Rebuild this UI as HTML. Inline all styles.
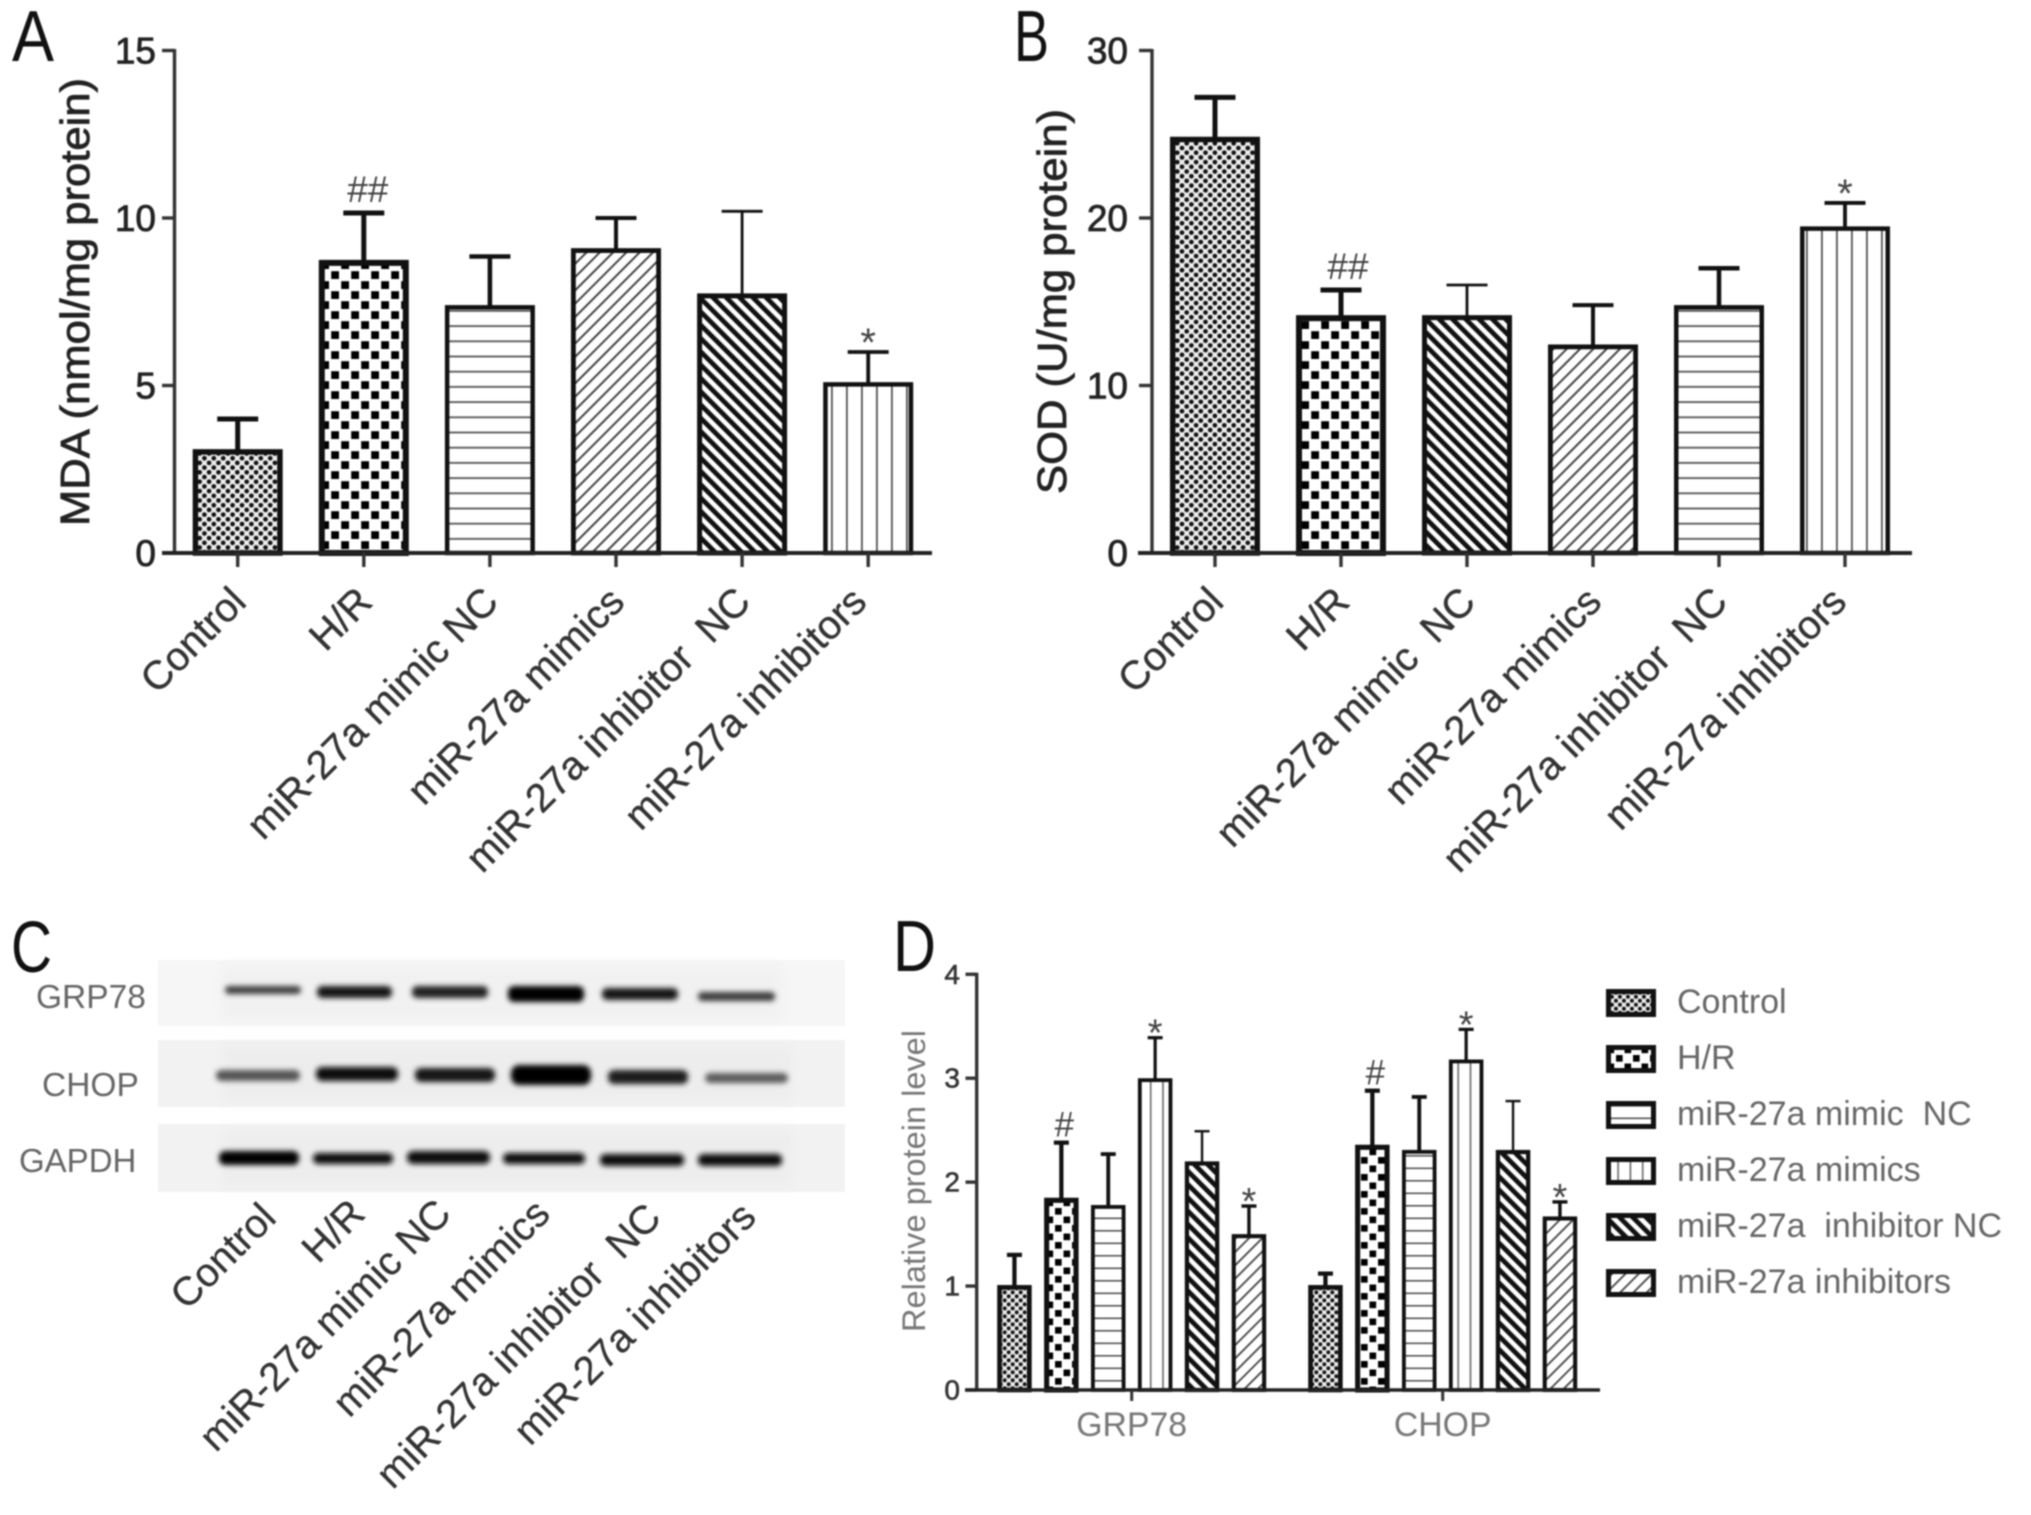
<!DOCTYPE html>
<html lang="en">
<head>
<meta charset="utf-8">
<title>miR-27a figure panels</title>
<style>
html,body{margin:0;padding:0;background:#fff;}
svg{display:block;filter:blur(0.7px);}
text{font-family:"Liberation Sans",Arial,sans-serif;white-space:pre;}
</style>
</head>
<body>
<svg id="figure" xmlns="http://www.w3.org/2000/svg" width="2031" height="1515" viewBox="0 0 2031 1515">
<defs>
<pattern id="p-dots" width="9.4" height="9.4" patternUnits="userSpaceOnUse"><rect width="9.4" height="9.4" fill="#eee"/><circle cx="2.3" cy="2.3" r="2.35" fill="#111"/><circle cx="7" cy="7" r="2.35" fill="#111"/></pattern>
<pattern id="p-checks" width="20" height="20" patternUnits="userSpaceOnUse"><rect width="20" height="20" fill="#fff"/><rect x="1.2" y="1.2" width="7.8" height="7.8" fill="#000"/><rect x="11.2" y="11.2" width="7.8" height="7.8" fill="#000"/></pattern>
<pattern id="p-hlines" width="15" height="15.2" patternUnits="userSpaceOnUse"><rect width="15" height="15.2" fill="#fff"/><rect y="6" width="15" height="1.8" fill="#555"/></pattern>
<pattern id="p-vlines" width="15" height="15" patternUnits="userSpaceOnUse"><rect width="15" height="15" fill="#fff"/><rect x="6" width="1.8" height="15" fill="#555"/></pattern>
<pattern id="p-fdiag" width="9.4" height="9.4" patternUnits="userSpaceOnUse" patternTransform="rotate(45)"><rect width="9.4" height="9.4" fill="#fff"/><rect width="2" height="9.4" fill="#444"/></pattern>
<pattern id="p-bdiag" width="9.4" height="9.4" patternUnits="userSpaceOnUse" patternTransform="rotate(-45)"><rect width="9.4" height="9.4" fill="#fff"/><rect width="4.8" height="9.4" fill="#111"/></pattern>
<pattern id="pd-dots" width="9.4" height="9.4" patternUnits="userSpaceOnUse" patternTransform="scale(0.85)"><rect width="9.4" height="9.4" fill="#eee"/><circle cx="2.3" cy="2.3" r="2.35" fill="#111"/><circle cx="7" cy="7" r="2.35" fill="#111"/></pattern>
<pattern id="pd-checks" width="20" height="20" patternUnits="userSpaceOnUse" patternTransform="scale(0.85)"><rect width="20" height="20" fill="#fff"/><rect x="1.2" y="1.2" width="7.8" height="7.8" fill="#000"/><rect x="11.2" y="11.2" width="7.8" height="7.8" fill="#000"/></pattern>
<pattern id="pd-hlines" width="15" height="12.5" patternUnits="userSpaceOnUse"><rect width="15" height="12.5" fill="#fff"/><rect y="5" width="15" height="1.6" fill="#555"/></pattern>
<pattern id="pd-vlines" width="12.3" height="15" patternUnits="userSpaceOnUse"><rect width="12.3" height="15" fill="#fff"/><rect x="6" width="1.6" height="15" fill="#666"/></pattern>
<pattern id="pd-fdiag" width="9.4" height="9.4" patternUnits="userSpaceOnUse" patternTransform="rotate(45)"><rect width="9.4" height="9.4" fill="#fff"/><rect width="1.8" height="9.4" fill="#444"/></pattern>
<pattern id="pd-bdiag" width="9.4" height="9.4" patternUnits="userSpaceOnUse" patternTransform="rotate(-45)"><rect width="9.4" height="9.4" fill="#fff"/><rect width="4.8" height="9.4" fill="#111"/></pattern>
<filter id="band-blur" x="-20%" y="-100%" width="140%" height="300%"><feGaussianBlur stdDeviation="2.6"/></filter>
<filter id="lane-blur" x="-10%" y="-20%" width="120%" height="140%"><feGaussianBlur stdDeviation="6"/></filter>
</defs>

<rect width="2031" height="1515" fill="#fff"/>

<text x="12" y="61" font-size="72" fill="#111" textLength="42" lengthAdjust="spacingAndGlyphs">A</text>
<text x="1014" y="61" font-size="72" fill="#111" textLength="35" lengthAdjust="spacingAndGlyphs">B</text>
<text x="11" y="972" font-size="72" fill="#111" textLength="41" lengthAdjust="spacingAndGlyphs">C</text>
<text x="893" y="971" font-size="72" fill="#111" textLength="43" lengthAdjust="spacingAndGlyphs">D</text>

<text transform="translate(89,526) rotate(-90)" font-size="41" fill="#222" stroke="#222" stroke-width="0.8" textLength="448" lengthAdjust="spacingAndGlyphs">MDA (nmol/mg protein)</text>
<text transform="translate(1066,494) rotate(-90)" font-size="41" fill="#222" stroke="#222" stroke-width="0.8" textLength="385" lengthAdjust="spacingAndGlyphs">SOD (U/mg protein)</text>
<text transform="translate(925,1332) rotate(-90)" font-size="32" fill="#777" textLength="302" lengthAdjust="spacingAndGlyphs">Relative protein level</text>

<g id="panel-a"></g>
<g id="panel-b"></g>

<g id="panel-c">
  <rect x="158" y="960" width="687" height="66" fill="#f6f6f6"/>
  <rect x="158" y="1040" width="687" height="67" fill="#f2f2f2"/>
  <rect x="158" y="1124" width="687" height="68" fill="#f2f2f2"/>
  <g filter="url(#lane-blur)">
    <rect x="222" y="966" width="560" height="54" fill="#f1f1f1"/>
    <rect x="222" y="1046" width="570" height="56" fill="#ededed"/>
    <rect x="222" y="1130" width="570" height="56" fill="#ededed"/>
  </g>
  <g filter="url(#band-blur)">
    <rect x="225" y="986" width="76" height="8" rx="4" fill="#3a3a3a"/>
    <rect x="317" y="986" width="75" height="12" rx="5" fill="#141414"/>
    <rect x="412" y="986" width="76" height="12" rx="5" fill="#232323"/>
    <rect x="508" y="986" width="76" height="16" rx="6" fill="#000"/>
    <rect x="602" y="988" width="76" height="12" rx="5" fill="#141414"/>
    <rect x="698" y="992" width="77" height="9" rx="4" fill="#3a3a3a"/>
    <rect x="216" y="1070" width="84" height="11" rx="5" fill="#555"/>
    <rect x="316" y="1067" width="82" height="14" rx="6" fill="#111"/>
    <rect x="415" y="1068" width="80" height="14" rx="6" fill="#151515"/>
    <rect x="511" y="1065" width="80" height="20" rx="8" fill="#000"/>
    <rect x="608" y="1070" width="80" height="14" rx="6" fill="#1c1c1c"/>
    <rect x="705" y="1073" width="83" height="10" rx="5" fill="#5a5a5a"/>
    <rect x="219" y="1151" width="80" height="14" rx="6" fill="#000"/>
    <rect x="313" y="1153" width="80" height="11" rx="5" fill="#0c0c0c"/>
    <rect x="407" y="1151" width="83" height="13" rx="6" fill="#0c0c0c"/>
    <rect x="503" y="1153" width="82" height="11" rx="5" fill="#0c0c0c"/>
    <rect x="600" y="1154" width="84" height="12" rx="5" fill="#0c0c0c"/>
    <rect x="698" y="1154" width="84" height="12" rx="5" fill="#0c0c0c"/>
  </g>
  <text x="36" y="1008" font-size="33.5" fill="#666">GRP78</text>
  <text x="42" y="1096" font-size="33.5" fill="#666">CHOP</text>
  <text x="19" y="1172" font-size="33" fill="#666">GAPDH</text>
  <g font-size="40" fill="#333" stroke="#333" stroke-width="0.3" text-anchor="end">
    <text transform="translate(278,1220) rotate(-45)">Control</text>
    <text transform="translate(367,1216) rotate(-45)">H/R</text>
    <text transform="translate(453,1216) rotate(-45)">miR-27a mimic NC</text>
    <text transform="translate(552,1216) rotate(-45)">miR-27a mimics</text>
    <text transform="translate(663,1220) rotate(-45)">miR-27a inhibitor  NC</text>
    <text transform="translate(758,1219) rotate(-45)">miR-27a inhibitors</text>
  </g>
</g>

<g id="panel-d"></g>

<g id="legend"></g>

<script>
// ---------- Panel A data ----------
const aCategories = ["Control", "H/R", "miR-27a mimic NC", "miR-27a mimics", "miR-27a inhibitor  NC", "miR-27a inhibitors"];
const aMeans = [3.1, 8.75, 7.4, 9.1, 7.75, 5.1];
const aErrorTops = [4.0, 10.15, 8.85, 10.0, 10.2, 6.0];
const aPatterns = ["dots", "checks", "hlines", "fdiag", "bdiag", "vlines"];
const aMarks = ["", "##", "", "", "", "*"];
const aYTicks = [0, 5, 10, 15];

// ---------- Panel B data ----------
const bCategories = ["Control", "H/R", "miR-27a mimic  NC", "miR-27a mimics", "miR-27a inhibitor  NC", "miR-27a inhibitors"];
const bMeans = [24.85, 14.2, 14.2, 12.45, 14.8, 19.5];
const bErrorTops = [27.2, 15.7, 16.0, 14.8, 17.0, 20.9];
const bPatterns = ["dots", "checks", "bdiag", "fdiag", "hlines", "vlines"];
const bMarks = ["", "##", "", "", "", "*"];
const bYTicks = [0, 10, 20, 30];

// ---------- Panel D data ----------
const dGroups = ["GRP78", "CHOP"];
const dGrp78Means = [1.01, 1.85, 1.78, 3.0, 2.2, 1.5];
const dGrp78ErrorTops = [1.3, 2.38, 2.27, 3.39, 2.49, 1.77];
const dChopMeans = [1.01, 2.36, 2.31, 3.18, 2.31, 1.67];
const dChopErrorTops = [1.12, 2.88, 2.82, 3.47, 2.78, 1.81];
const dPatterns = ["dots", "checks", "hlines", "vlines", "bdiag", "fdiag"];
const dMarks = ["", "#", "", "*", "", "*"];
const dYTicks = [0, 1, 2, 3, 4];
const legendLabels = ["Control", "H/R", "miR-27a mimic  NC", "miR-27a mimics", "miR-27a  inhibitor NC", "miR-27a inhibitors"];

// Line weights per fill style
const barStroke = { dots: 5.5, checks: 6, hlines: 4.5, fdiag: 4.8, bdiag: 5, vlines: 4.5 };
const stemStroke = { dots: 5, checks: 5, hlines: 4.5, fdiag: 4, bdiag: 2.8, vlines: 3.8 };

const NS = "http://www.w3.org/2000/svg";
function mk(parent, tag, attrs, text) {
  const el = document.createElementNS(NS, tag);
  for (const k in attrs) el.setAttribute(k, attrs[k]);
  if (text !== undefined) el.textContent = text;
  parent.appendChild(el);
  return el;
}
function slug(s) {
  return s.toLowerCase().replace(/[^a-z0-9]+/g, "-");
}

// Axis functions
function linearY(y0, yTop, maxValue) {
  return function (v) { return y0 - (v / maxValue) * (y0 - yTop); };
}
function bandX(first, step) {
  return function (i) { return first + i * step; };
}

function drawYAxis(g, prefix, axisX, tickLeft, labelRight, yScale, ticks, fontSize, color, labelDy, labelStroke) {
  const top = yScale(ticks[ticks.length - 1]);
  const bottom = yScale(0);
  const axis = mk(g, "line", { x1: axisX, x2: axisX, y1: top - 1.5, y2: bottom, stroke: "#333", "stroke-width": 3.4 });
  
  
  ticks.forEach(function (t) {
    const y = yScale(t);
    const tick = mk(g, "line", { x1: tickLeft, x2: axisX, y1: y, y2: y, stroke: "#333", "stroke-width": 3.4 });
    
    
    const label = mk(g, "text", { x: labelRight, y: y + labelDy, "font-size": fontSize, fill: color, stroke: color, "stroke-width": labelStroke, "text-anchor": "end" }, String(t));
    
    
  });
}

function drawBar(g, name, cx, mean, errTop, pat, mark, opt) {
  const y = opt.yScale;
  const sw = barStroke[pat] * opt.weight;
  const stemW = stemStroke[pat] * opt.weight;
  const topY = y(mean);
  const errY = y(errTop);
  const stem = mk(g, "line", { x1: cx, x2: cx, y1: errY, y2: topY + sw, stroke: "#111", "stroke-width": stemW });
  
  
  const cap = mk(g, "line", { x1: cx - opt.capW / 2, x2: cx + opt.capW / 2, y1: errY, y2: errY, stroke: "#111", "stroke-width": stemW });
  
  
  const bar = mk(g, "rect", {
    x: cx - opt.barW / 2 + sw / 2,
    y: topY + sw / 2,
    width: opt.barW - sw,
    height: Math.max(0, y(0) - topY - sw / 2),
    fill: "url(#" + opt.patPrefix + pat + ")",
    stroke: "#111",
    "stroke-width": sw
  });
  
  
  if (mark) {
    const isStar = mark === "*";
    const m = mk(g, "text", {
      x: cx + (isStar ? opt.starDx : opt.hashDx),
      y: errY + (isStar ? opt.starDy : opt.hashDy),
      "font-size": isStar ? opt.markSize + 3 : opt.markSize,
      fill: "#444",
      "text-anchor": "middle"
    }, mark);
    
    
  }
}

function drawRotatedLabel(g, name, x, y, text, fontSize) {
  const t = mk(g, "text", { transform: "translate(" + x + "," + y + ") rotate(-45)", "font-size": fontSize, fill: "#333", stroke: "#333", "stroke-width": 0.4, "text-anchor": "end" }, text);
  
  
}

function drawColumnPanel(g, prefix, cats, means, errs, pats, marks, ticks, yScale, xScale, geom) {
  drawYAxis(g, prefix, geom.axisX, geom.tickLeft, geom.labelRight, yScale, ticks, 37, "#222", 13, 0.8);
  cats.forEach(function (c, i) {
    drawBar(g, prefix + "-bar-" + slug(c), xScale(i), means[i], errs[i], pats[i], marks[i], {
      yScale: yScale, barW: 90, capW: 41, weight: 1, patPrefix: "p-",
      markSize: 37, hashDx: geom.hashDx, hashDy: -11, starDx: 0, starDy: 4
    });
  });
  const y0 = yScale(0);
  const xAxis = mk(g, "line", { x1: geom.xLeft, x2: geom.xRight, y1: y0, y2: y0, stroke: "#222", "stroke-width": 4 });
  
  
  cats.forEach(function (c, i) {
    const tick = mk(g, "line", { x1: xScale(i), x2: xScale(i), y1: y0, y2: y0 + 14, stroke: "#333", "stroke-width": 3.4 });
    
    
    const lastShift = i === cats.length - 1 ? geom.lastLabelShift : 0;
    drawRotatedLabel(g, prefix + "-x-label-" + slug(c), xScale(i) + 10.5 + lastShift, y0 + 51, c, 40);
  });
}

// ---------- Draw A ----------
const yA = linearY(553, 50.5, 15);
const xA = bandX(237.7, 126.1);
drawColumnPanel(document.getElementById("panel-a"), "a", aCategories, aMeans, aErrorTops, aPatterns, aMarks, aYTicks, yA, xA,
  { axisX: 174.5, tickLeft: 162, labelRight: 156, xLeft: 162, xRight: 932, hashDx: 4, lastLabelShift: -10 });

// ---------- Draw B ----------
const yB = linearY(553, 50.5, 30);
const xB = bandX(1215, 126);
drawColumnPanel(document.getElementById("panel-b"), "b", bCategories, bMeans, bErrorTops, bPatterns, bMarks, bYTicks, yB, xB,
  { axisX: 1152, tickLeft: 1139, labelRight: 1128, xLeft: 1138, xRight: 1912, hashDx: 7, lastLabelShift: -7 });

// ---------- Draw D ----------
const panelD = document.getElementById("panel-d");
const yD = linearY(1390, 974.3, 4);
const xD = bandX(1131.7, 311);
const dBarStep = 46.9;
drawYAxis(panelD, "d", 976.7, 965.5, 960, yD, dYTicks, 28, "#333", 9.5, 0.6);
[[dGrp78Means, dGrp78ErrorTops], [dChopMeans, dChopErrorTops]].forEach(function (series, gi) {
  dPatterns.forEach(function (pat, i) {
    const cx = xD(gi) + (i - 2.5) * dBarStep;
    drawBar(panelD, "d-bar-" + slug(dGroups[gi]) + "-" + slug(legendLabels[i]), cx, series[0][i], series[1][i], pat, dMarks[i], {
      yScale: yD, barW: 34.5, capW: 15, weight: 0.85, patPrefix: "pd-",
      markSize: 35, hashDx: 3, hashDy: -6, starDx: 0, starDy: 8
    });
  });
});
const dAxis = mk(panelD, "line", { x1: 965, x2: 1600, y1: yD(0), y2: yD(0), stroke: "#222", "stroke-width": 3.6 });


dGroups.forEach(function (name, gi) {
  const tick = mk(panelD, "line", { x1: xD(gi), x2: xD(gi), y1: yD(0), y2: yD(0) + 11, stroke: "#333", "stroke-width": 3 });
  
  
  const label = mk(panelD, "text", { x: xD(gi), y: 1436, "font-size": 33.8, fill: "#777", "text-anchor": "middle" }, name);
  
  
});

// ---------- Legend ----------
const legendG = document.getElementById("legend");
legendLabels.forEach(function (label, i) {
  const rowY = 989 + i * 56;
  const swatch = mk(legendG, "rect", {
    x: 1608.5, y: rowY + 2.5, width: 45, height: 23,
    fill: "url(#pd-" + dPatterns[i] + ")", stroke: "#111", "stroke-width": 5
  });
  
  
  const t = mk(legendG, "text", { x: 1677, y: rowY + 24, "font-size": 34, fill: "#666" }, label);
  
  
});
</script>
</svg>
</body>
</html>
